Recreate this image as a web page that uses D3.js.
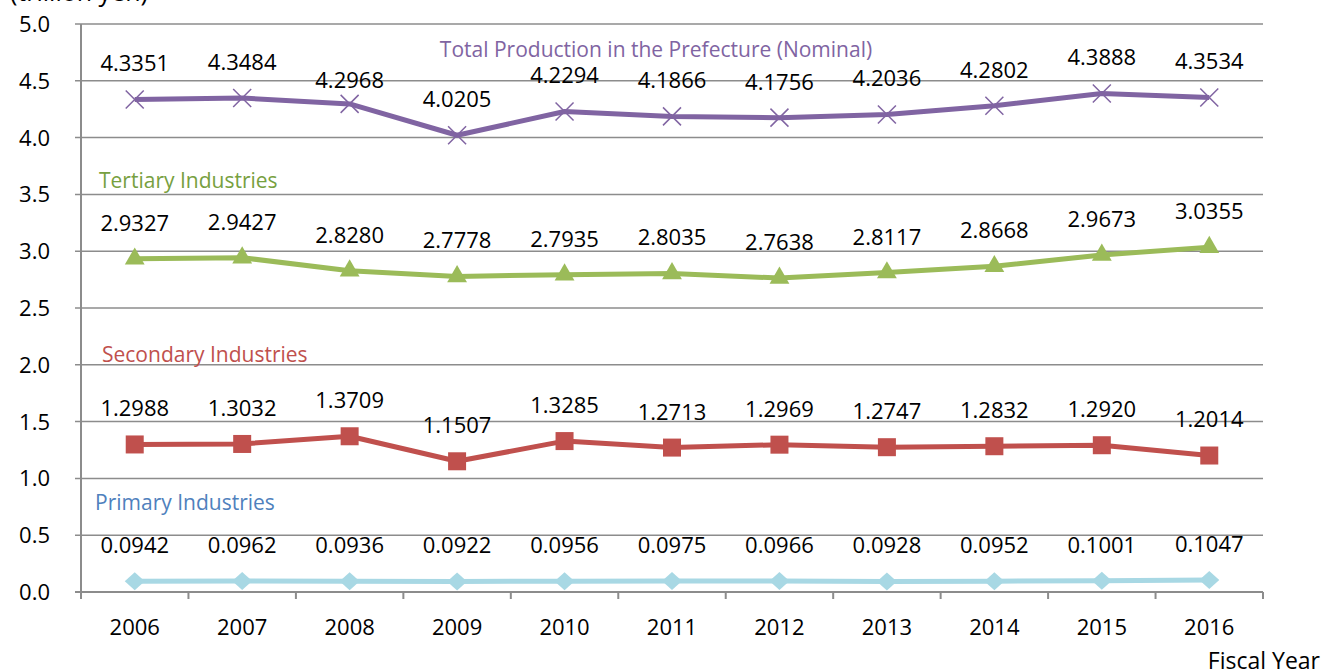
<!DOCTYPE html>
<html>
<head>
<meta charset="utf-8">
<script src="https://cdn.jsdelivr.net/npm/d3@7"></script>
<style>
  body { margin: 0; background: #fff; }
  svg text { font-family: "Open Sans", sans-serif; }
</style>
</head>
<body>
<svg width="1336" height="672"></svg>
<script>
"use strict";

var years = ["2006", "2007", "2008", "2009", "2010", "2011", "2012", "2013", "2014", "2015", "2016"];
var total = [4.3351, 4.3484, 4.2968, 4.0205, 4.2294, 4.1866, 4.1756, 4.2036, 4.2802, 4.3888, 4.3534];
var tertiary = [2.9327, 2.9427, 2.8280, 2.7778, 2.7935, 2.8035, 2.7638, 2.8117, 2.8668, 2.9673, 3.0355];
var secondary = [1.2988, 1.3032, 1.3709, 1.1507, 1.3285, 1.2713, 1.2969, 1.2747, 1.2832, 1.2920, 1.2014];
var primary = [0.0942, 0.0962, 0.0936, 0.0922, 0.0956, 0.0975, 0.0966, 0.0928, 0.0952, 0.1001, 0.1047];
var yTicks = [0, 0.5, 1, 1.5, 2, 2.5, 3, 3.5, 4, 4.5, 5];

var series = [
  {name: "Total Production in the Prefecture (Nominal)", values: total, color: "#8064a2", textColor: "#8064a2", marker: "x", nameX: 656, nameV: 4.775, anchor: "middle"},
  {name: "Tertiary Industries", values: tertiary, color: "#9bbb59", textColor: "#77a040", marker: "triangle", nameX: 99, nameV: 3.625, anchor: "start"},
  {name: "Secondary Industries", values: secondary, color: "#c0504d", textColor: "#c0504d", marker: "square", nameX: 102, nameV: 2.09, anchor: "start"},
  {name: "Primary Industries", values: primary, color: "#a8d8e4", textColor: "#4f81bd", marker: "diamond", nameX: 95, nameV: 0.79, anchor: "start"}
];

var svg = d3.select("svg"),
    margin = {top: 24, right: 73, bottom: 80, left: 81},
    width = +svg.attr("width") - margin.left - margin.right,
    height = +svg.attr("height") - margin.top - margin.bottom,
    g = svg.append("g").attr("transform", "translate(" + margin.left + "," + margin.top + ")");

var x = d3.scaleBand().domain(years).range([0, width]);
var y = d3.scaleLinear().domain([0, 5]).range([height, 0]);
var cx = function(i) { return x(years[i]) + x.bandwidth() / 2; };

// gridlines
g.append("g").selectAll("line")
  .data(yTicks.filter(function(d) { return d > 0; }))
  .enter().append("line")
    .attr("x1", -6).attr("x2", width)
    .attr("y1", function(d) { return y(d); })
    .attr("y2", function(d) { return y(d); })
    .attr("stroke", "#8c8c8c").attr("stroke-width", 1.5);

// y axis line
g.append("line").attr("x1", 0).attr("x2", 0).attr("y1", 0).attr("y2", height)
  .attr("stroke", "#8c8c8c").attr("stroke-width", 2);

// x axis with ticks at band boundaries
g.append("line").attr("x1", -6).attr("x2", width).attr("y1", height).attr("y2", height)
  .attr("stroke", "#8c8c8c").attr("stroke-width", 2);
g.append("g").selectAll("line")
  .data(d3.range(years.length + 1))
  .enter().append("line")
    .attr("x1", function(d) { return d * x.step(); })
    .attr("x2", function(d) { return d * x.step(); })
    .attr("y1", height).attr("y2", height + 7)
    .attr("stroke", "#8c8c8c").attr("stroke-width", 2);

// y tick labels
g.append("g").selectAll("text")
  .data(yTicks)
  .enter().append("text")
    .attr("x", -31).attr("y", function(d) { return y(d); })
    .attr("dy", "0.36em")
    .attr("text-anchor", "end")
    .attr("font-size", 22)
    .attr("fill", "#000")
    .text(function(d) { return d3.format(".1f")(d); });

// x tick labels
g.append("g").selectAll("text")
  .data(years)
  .enter().append("text")
    .attr("x", function(d) { return x(d) + x.bandwidth() / 2; })
    .attr("y", height + 35)
    .attr("dy", "0.36em")
    .attr("text-anchor", "middle")
    .attr("font-size", 22)
    .attr("fill", "#000")
    .text(function(d) { return d; });

svg.append("text").attr("x", 10).attr("y", 1).attr("font-size", 25).attr("fill", "#000").text("(trillion yen)");
svg.append("text").attr("x", 1320).attr("y", 669).attr("text-anchor", "end").attr("font-size", 23).attr("fill", "#000").text("Fiscal Year");

var line = d3.line()
  .x(function(d, i) { return cx(i); })
  .y(function(d) { return y(d); });

series.forEach(function(s) {
  var sg = g.append("g");
  sg.append("path")
    .datum(s.values)
    .attr("d", line)
    .attr("fill", "none")
    .attr("stroke", s.color)
    .attr("stroke-width", 5)
    .attr("stroke-linejoin", "round");

  var m = sg.selectAll("g.m")
    .data(s.values)
    .enter().append("g")
      .attr("transform", function(d, i) { return "translate(" + cx(i) + "," + y(d) + ")"; });

  if (s.marker === "x") {
    m.append("path").attr("d", "M-9,-9L9,9M-9,9L9,-9")
      .attr("stroke", s.color).attr("stroke-width", 1.5).attr("fill", "none");
  } else if (s.marker === "triangle") {
    m.append("path").attr("d", d3.symbol(d3.symbolTriangle, 170))
      .attr("fill", s.color);
  } else if (s.marker === "square") {
    m.append("rect").attr("x", -9).attr("y", -9).attr("width", 18).attr("height", 18)
      .attr("fill", s.color);
  } else {
    m.append("path").attr("d", "M0,-9L10,0L0,9L-10,0Z")
      .attr("fill", s.color);
  }

  sg.selectAll("text.v")
    .data(s.values)
    .enter().append("text")
      .attr("x", function(d, i) { return cx(i); })
      .attr("y", function(d, i) { return y(d) - (s.marker === "x" && i === 2 ? 24 : 36); })
      .attr("dy", "0.36em")
      .attr("text-anchor", "middle")
      .attr("font-size", 22)
      .attr("fill", "#000")
      .text(function(d) { return d3.format(".4f")(d); });

  sg.append("text")
    .attr("x", s.nameX - margin.left)
    .attr("y", y(s.nameV))
    .attr("dy", "0.36em")
    .attr("text-anchor", s.anchor)
    .attr("font-size", 21)
    .attr("fill", s.textColor)
    .text(s.name);
});
</script>
</body>
</html>
